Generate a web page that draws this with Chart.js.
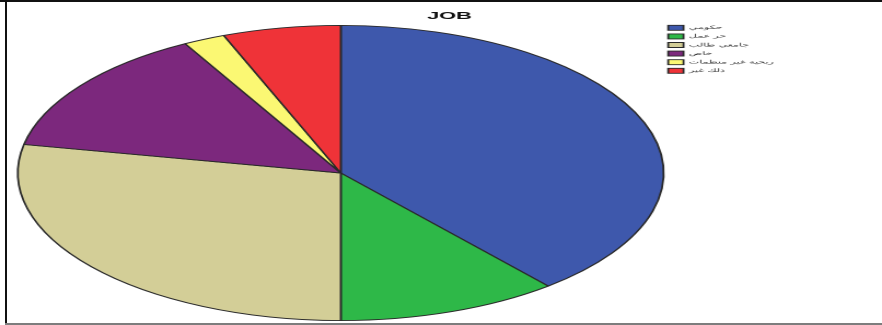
<!DOCTYPE html>
<html>
<head>
<meta charset="utf-8">
<title>JOB</title>
<script src="https://cdn.jsdelivr.net/npm/chart.js@4.4.1/dist/chart.umd.min.js"></script>
<style>
  html, body { margin: 0; padding: 0; background: #fff; }
  #sheet { position: relative; width: 882px; height: 325px; overflow: hidden; background: #fff; }
  /* the chart is laid out narrow and stretched sideways, so the pie reads as an ellipse */
  #stretch { position: absolute; left: 0; top: 0; width: 403px; height: 325px;
             transform: scaleX(2.1886); transform-origin: 0 0; }
  .rule { position: absolute; }
  #ruleTop { left: 0; top: 0; width: 882px; height: 2px; background: #111; }
  #ruleLeft { left: 5px; top: 0; width: 2px; height: 325px; background: #111; }
  #ruleBottom { left: 5px; top: 323px; width: 877px; height: 2px; background: #7d7d7d; }
</style>
</head>
<body>
<div id="sheet">
  <div id="stretch"><canvas id="chart" width="403" height="325"></canvas></div>
  <div class="rule" id="ruleTop"></div>
  <div class="rule" id="ruleLeft"></div>
  <div class="rule" id="ruleBottom"></div>
</div>
<script>
// JOB – share of respondents per job type (%)
const jobLabels = ["حكومي", "حر عمل", "جامعي طالب", "خاص", "ربحية غير منظمات", "ذلك غير"];
const jobShares = [38.9, 11.1, 28.1, 13.9, 2.1, 5.9];
const sliceColors = ["#3e58ac", "#2eb848", "#d3ce97", "#7c287d", "#fbf873", "#ef3338"];

const LEGEND_W = 99.3;                    // legend column keeps the pie to the left
const LEGEND_NUDGE = { x: -2, y: -3.3 };  // pull the key up against the title

// fixed-width legend so the title stays centred on the page,
// then a small nudge so the key sits flush with the top of the pie
const legendPlacement = {
  id: "legendPlacement",
  beforeLayout(chart) {
    const lg = chart.legend;
    if (!lg || lg._fixedWidth) return;
    const fit = lg.fit;
    lg.fit = function () {
      fit.call(this);
      this.width = Math.max(this.width, LEGEND_W);
    };
    lg._fixedWidth = true;
  },
  afterLayout(chart) {
    const lg = chart.legend;
    if (!lg) return;
    lg.left += LEGEND_NUDGE.x;
    lg.right += LEGEND_NUDGE.x;
    lg.top += LEGEND_NUDGE.y;
    lg.bottom += LEGEND_NUDGE.y;
  }
};

const ctx = document.getElementById("chart").getContext("2d");

new Chart(ctx, {
  type: "pie",
  data: {
    labels: jobLabels,
    datasets: [{
      data: jobShares,
      backgroundColor: sliceColors,
      borderColor: "#2a2a2a",
      borderWidth: 0.9
    }]
  },
  plugins: [legendPlacement],
  options: {
    responsive: false,
    devicePixelRatio: 2,
    animation: false,
    layout: {
      padding: { left: 7.7, right: 0, top: 0, bottom: 4 }
    },
    plugins: {
      title: {
        display: true,
        text: "JOB",
        color: "#111",
        font: { family: "Arial, 'Liberation Sans', sans-serif", size: 10, weight: "bold" },
        padding: { top: 10, bottom: 3 }
      },
      legend: {
        position: "right",
        align: "start",
        fullSize: false,
        labels: {
          boxWidth: 7,
          boxHeight: 5,
          padding: 3.6,
          color: "#333",
          font: { family: "'DejaVu Sans', sans-serif", size: 5 }
        }
      },
      tooltip: { enabled: false }
    }
  }
});
</script>
</body>
</html>
